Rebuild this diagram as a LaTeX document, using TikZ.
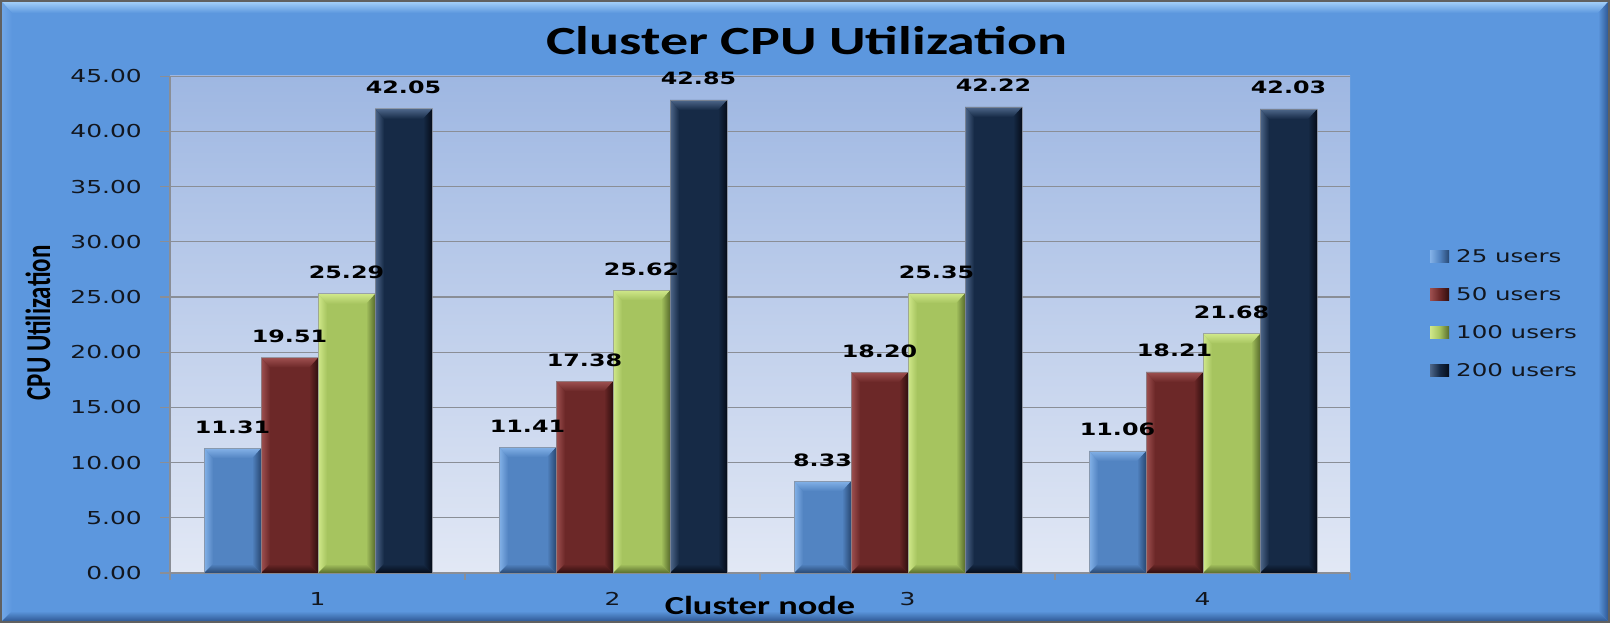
\documentclass[tikz,border=0pt]{standalone}
\usepackage{fontspec}
\setmainfont{DejaVu Sans}
\newfontfamily\carlito{Carlito}
\newcommand\wider[1]{\scalebox{1.4}[1]{#1}}
% chart frame and plot area
\definecolor{chartbg}{RGB}{92,151,222}
\definecolor{bevtop}{RGB}{160,205,248}
\definecolor{bevleft}{RGB}{112,166,230}
\definecolor{bevdark}{RGB}{48,90,150}
\definecolor{plottop}{RGB}{158,183,226}
\definecolor{plotbot}{RGB}{226,232,245}
\definecolor{gridgray}{RGB}{138,142,150}
\definecolor{ink}{RGB}{18,22,30}
% series colours: 25, 50, 100, 200 users
\definecolor{sermid0}{RGB}{82,132,194}
\definecolor{serlight0}{RGB}{132,178,232}
\definecolor{serdark0}{RGB}{40,72,115}
\definecolor{sermid1}{RGB}{108,40,40}
\definecolor{serlight1}{RGB}{158,80,80}
\definecolor{serdark1}{RGB}{48,14,14}
\definecolor{sermid2}{RGB}{166,196,95}
\definecolor{serlight2}{RGB}{208,232,138}
\definecolor{serdark2}{RGB}{88,108,44}
\definecolor{sermid3}{RGB}{22,42,70}
\definecolor{serlight3}{RGB}{78,103,138}
\definecolor{serdark3}{RGB}{5,12,25}
\begin{document}
\begin{tikzpicture}[x=1pt,y=-1pt,
  ticklab/.style={anchor=east,inner sep=0pt,text=ink,font=\fontsize{17.8}{20}\selectfont},
  vallab/.style={anchor=base,inner sep=0pt,text=black,font=\bfseries\fontsize{17}{20}\selectfont},
  catlab/.style={anchor=base,inner sep=0pt,text=ink,font=\fontsize{17.8}{20}\selectfont},
  leglab/.style={anchor=base west,inner sep=0pt,text=ink,font=\fontsize{17.5}{20}\selectfont},
  gridline/.style={draw=gridgray,line width=1.2pt}]
\useasboundingbox (0,0) rectangle (1610,623);
% bevelled chart frame
\fill[chartbg] (0,0) rectangle (1610,623);
\shade[top color=bevtop, bottom color=chartbg] (2,2) -- (1608,2) -- (1598,13) -- (12,13) -- cycle;
\shade[left color=bevleft, right color=chartbg] (2,2) -- (12,13) -- (12,611) -- (2,621) -- cycle;
\shade[left color=chartbg, right color=bevdark] (1608,2) -- (1608,621) -- (1598,611) -- (1598,13) -- cycle;
\shade[top color=chartbg, bottom color=bevdark] (2,621) -- (1608,621) -- (1598,611) -- (12,611) -- cycle;
\draw[gray!75!black, line width=2pt] (1,1) rectangle (1609,622);
% plot area, grid and value axis
\shade[top color=plottop, bottom color=plotbot] (170,76) rectangle (1350,573);
\foreach \lab [count=\i from 0] in {0.00,5.00,10.00,15.00,20.00,25.00,30.00,35.00,40.00,45.00} {
  \pgfmathsetmacro\gy{573-55.2*\i}
  \draw[gridline] (160,\gy) -- (1350,\gy);
  \node[ticklab] (ytick\i) at (142,\gy) {\wider{\lab}};
}
\foreach \k in {0,...,4} {
  \pgfmathsetmacro\tx{170+295*\k}
  \draw[gridline] (\tx,573) -- (\tx,580);
}
\draw[gridline] (170,76) -- (170,573) -- (1350,573);
% bevelled bars
\foreach \vals [count=\c from 0] in {{11.31,19.51,25.29,42.05},{11.41,17.38,25.62,42.85},{8.33,18.20,25.35,42.22},{11.06,18.21,21.68,42.03}} {
  \foreach \v [count=\j from 0] in \vals {
    \pgfmathsetmacro\xl{204+295*\c+57*\j}
    \pgfmathsetmacro\xr{\xl+57}
    \pgfmathsetmacro\yt{573-11.04*\v}
    \pgfmathsetmacro\xa{\xl+9}
    \pgfmathsetmacro\xb{\xr-9}
    \pgfmathsetmacro\ya{\yt+10}
    \fill[sermid\j] (\xl,\yt) rectangle (\xr,573);
    \shade[left color=serlight\j, right color=sermid\j] (\xl,\yt) -- (\xa,\ya) -- (\xa,564) -- (\xl,573) -- cycle;
    \shade[left color=sermid\j, right color=serdark\j] (\xr,\yt) -- (\xr,573) -- (\xb,564) -- (\xb,\ya) -- cycle;
    \shade[top color=serlight\j, bottom color=sermid\j] (\xl,\yt) -- (\xr,\yt) -- (\xb,\ya) -- (\xa,\ya) -- cycle;
    \shade[top color=sermid\j, bottom color=serdark\j] (\xl,573) -- (\xr,573) -- (\xb,564) -- (\xa,564) -- cycle;
    \draw[gridgray, line width=0.6pt, opacity=0.7] (\xl,573) rectangle (\xr,\yt);
  }
  \pgfmathtruncatemacro\cn{\c+1}
  \node[catlab] (cat\c) at (317.5+295*\c,605) {\wider{\cn}};
}
% value labels, set above every bar
\foreach \vals [count=\c from 0] in {{11.31,19.51,25.29,42.05},{11.41,17.38,25.62,42.85},{8.33,18.20,25.35,42.22},{11.06,18.21,21.68,42.03}} {
  \foreach \v [count=\j from 0] in \vals {
    \pgfmathsetmacro\xm{232.5+295*\c+57*\j}
    \pgfmathsetmacro\yl{558-11.04*\v}
    \node[vallab] (val\c\j) at (\xm,\yl) {\wider{\v}};
  }
}
% legend
\foreach \name [count=\j from 0] in {25 users,50 users,100 users,200 users} {
  \pgfmathsetmacro\ly{262+38*\j}
  \shade[left color=serlight\j, right color=serdark\j, middle color=sermid\j] (1430,\ly-12) rectangle (1449,\ly);
  \node[leglab] (leg\j) at (1456,\ly) {\wider{\name}};
}
% titles
\node[anchor=base,inner sep=0pt,text=black,font=\carlito\bfseries\fontsize{40}{44}\selectfont] (title) at (807,55) {\wider{Cluster CPU Utilization}};
\node[anchor=base,inner sep=0pt,text=black,font=\carlito\bfseries\fontsize{26}{30}\selectfont] (xtitle) at (760,614) {\wider{Cluster node}};
\node[rotate=90,inner sep=0pt,text=black,font=\carlito\bfseries\fontsize{25}{30}\selectfont] (ytitle) at (38,323) {\scalebox{1}[1.4]{CPU Utilization}};
\end{tikzpicture}
\end{document}
